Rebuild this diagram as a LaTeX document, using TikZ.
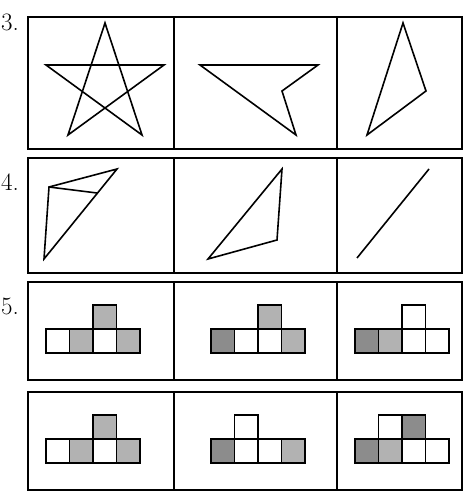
\documentclass[tikz,border=0pt]{standalone}
\usepackage{tikz}
\definecolor{celllight}{RGB}{178,178,178}
\definecolor{celldark}{RGB}{140,140,140}

\begin{document}
\begin{tikzpicture}[
    x=1pt, y=-1pt,
    panel/.style={draw, line width=1.6pt},
    divider/.style={draw, line width=1.1pt},
    figline/.style={line width=1.6pt, line join=miter},
    numlabel/.style={anchor=base west, inner sep=0pt, font=\fontsize{25}{25}\selectfont},
    cell/.style={draw, line width=1.6pt, minimum width=23.5pt, minimum height=24pt,
                 inner sep=0pt, anchor=north west}
]
\useasboundingbox (0,0) rectangle (469,500);

% Labels
\node[numlabel] (q3) at (1,31) {3.};
\node[numlabel] (q4) at (1,190) {4.};
\node[numlabel] (q5) at (1,314) {5.};

% Panels
\foreach \ytop/\ybot in {17/149, 158/273, 282/380, 392/490} {
    \draw[panel] (28,\ytop) rectangle (462,\ybot);
    \draw[divider] (174,\ytop) -- (174,\ybot);
    \draw[divider] (337,\ytop) -- (337,\ybot);
}

% Row 3
\draw[figline] (105,23) -- (142,135) -- (46,65) -- (164,65) -- (68,135) -- cycle;
\draw[figline] (200,65) -- (318,65) -- (282,91) -- (296,135) -- cycle;
\draw[figline] (403,23) -- (426,91) -- (367,135) -- cycle;

% Row 4
\draw[figline] (49,187) -- (117,169) -- (44,259) -- cycle;
\draw[figline] (49,187) -- (97,193);
\draw[figline] (282,169) -- (277,240) -- (208,259) -- cycle;
\draw[figline] (429,169) -- (357,258);

% Row 5
\foreach \shade [count=\k from 0] in {white,celllight,white,celllight}
    \node[cell, fill=\shade] (a\k) at (45+\k*23.5,328) {};
\node[cell, fill=celllight] (atop) at (92,304) {};
\foreach \shade [count=\k from 0] in {celldark,white,white,celllight}
    \node[cell, fill=\shade] (b\k) at (210+\k*23.5,328) {};
\node[cell, fill=celllight] (btop) at (257,304) {};
\foreach \shade [count=\k from 0] in {celldark,celllight,white,white}
    \node[cell, fill=\shade] (c\k) at (354+\k*23.5,328) {};
\node[cell, fill=white] (ctop) at (401,304) {};

% Row 6
\foreach \shade [count=\k from 0] in {white,celllight,white,celllight}
    \node[cell, fill=\shade] (d\k) at (45+\k*23.5,438) {};
\node[cell, fill=celllight] (dtop) at (92,414) {};
\foreach \shade [count=\k from 0] in {celldark,white,white,celllight}
    \node[cell, fill=\shade] (e\k) at (210+\k*23.5,438) {};
\node[cell, fill=white] (etop) at (233.5,414) {};
\foreach \shade [count=\k from 0] in {celldark,celllight,white,white}
    \node[cell, fill=\shade] (f\k) at (354+\k*23.5,438) {};
\node[cell, fill=white] (ftopa) at (377.5,414) {};
\node[cell, fill=celldark] (ftopb) at (401,414) {};

\end{tikzpicture}
\end{document}
